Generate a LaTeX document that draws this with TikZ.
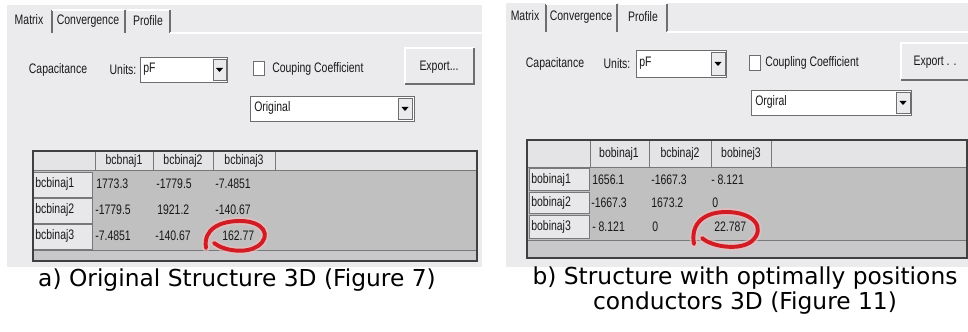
\documentclass[tikz,border=0pt]{standalone}
\usepackage{fontspec}
\newfontfamily\guifont[FakeStretch=0.76]{Liberation Sans}
\newfontfamily\capfont{DejaVu Sans}
\usetikzlibrary{calc}
\definecolor{panelgray}{RGB}{235,235,238}
\definecolor{headgray}{RGB}{228,228,230}
\definecolor{rowgray}{RGB}{232,232,234}
\definecolor{datagray}{RGB}{192,192,192}
\definecolor{stripgray}{RGB}{200,200,202}
\definecolor{gridgray}{RGB}{120,120,120}
\definecolor{framedark}{RGB}{64,64,64}
\definecolor{bevdark}{RGB}{110,110,112}
\definecolor{ringred}{RGB}{208,28,34}
\tikzset{
  panel/.style={fill=panelgray},
  field/.style={fill=white,draw=bevdark,line width=0.6pt},
  knob/.style={fill=panelgray,draw=bevdark,line width=0.5pt},
  litedge/.style={white,line width=0.9pt},
  darkedge/.style={bevdark,line width=0.9pt},
  gui/.style={font=\guifont\fontsize{9.8}{11}\selectfont,inner sep=0pt,text=black!90},
  guiw/.style={gui,anchor=west},
  headcell/.style={fill=headgray,draw=gridgray,line width=0.5pt},
  rowcell/.style={fill=rowgray,draw=gridgray,line width=0.5pt},
  tableframe/.style={draw=framedark,line width=0.9pt},
  ring/.style={draw=ringred,line width=2.8pt,line cap=round},
  ringglow/.style={draw=ringred!30,line width=5.5pt,line cap=round,opacity=0.6},
  caption/.style={font=\capfont\fontsize{16.6}{17.8}\selectfont,inner sep=0pt,align=center},
}

\begin{document}
\begin{tikzpicture}[x=0.25mm,y=-0.25mm]
  \path[use as bounding box,fill=white] (0,0) rectangle (968,332);

  % ---- left screenshot
  \path[panel] (7,5) rectangle (482,267);
  \draw[darkedge] (52,33) -- (52,10);
  \draw[litedge] (52,10) -- (125,10) (127,10) -- (170,10);
  \draw[darkedge] (125,10) -- (125,33) (170,10) -- (170,33);
  \draw[litedge] (170,33) -- (482,33);
  \node[gui] (lmatrix) at (29,20) {Matrix};
  \node[gui] (lconv) at (88,21) {Convergence};
  \node[gui] (lprofile) at (148,21) {Profile};

  \node[gui] (lcap) at (58,70) {Capacitance};
  \node[gui] (lunits) at (123,70) {Units:};
  \draw[field] (140,57) rectangle (227,82);
  \draw[knob] (213,59) rectangle (226,80);
  \fill (216,68) -- (223,68) -- (219.5,72) -- cycle;
  \node[guiw] (lpf) at (143,69) {pF};
  \draw[field] (253,61) rectangle (264,75);
  \node[guiw] (lcoef) at (272,69) {Couping Coefficient};
  \draw[litedge] (405,84) -- (405,48) -- (474,48);
  \draw[darkedge] (474,48) -- (474,84) -- (405,84);
  \node[gui] (lexport) at (439,67) {Export...};
  \draw[field] (250,96) rectangle (414,121);
  \draw[knob] (398,98) rectangle (412,119);
  \fill (401.5,107) -- (408.5,107) -- (405,111) -- cycle;
  \node[guiw] (lorig) at (254,108) {Original};

  % matrix table
  \path[fill=datagray] (33,151) rectangle (477,261);
  \path[headcell] (33,151) rectangle (95,170);
  \path[headcell] (95,151) rectangle (153,170);
  \path[headcell] (153,151) rectangle (213,170);
  \path[headcell] (213,151) rectangle (275,170);
  \path[headcell] (275,151) rectangle (477,170);
  \node[gui] (lh1) at (124,161) {bcbnaj1};
  \node[gui] (lh2) at (183,161) {bcbinaj2};
  \node[gui] (lh3) at (244,161) {bcbinaj3};
  \path[rowcell] (33,172) rectangle (92,197);
  \path[rowcell] (33,198) rectangle (92,223);
  \path[rowcell] (33,224) rectangle (92,249);
  \node[guiw] (lr1) at (35,184) {bcbinaj1};
  \node[guiw] (lr2) at (35,210) {bcbinaj2};
  \node[guiw] (lr3) at (35,236) {bcbinaj3};
  \node[guiw] (la11) at (96,184) {1773.3};
  \node[guiw] (la12) at (156,184) {-1779.5};
  \node[guiw] (la13) at (215,184) {-7.4851};
  \node[guiw] (la21) at (95,210) {-1779.5};
  \node[guiw] (la22) at (157,210) {1921.2};
  \node[guiw] (la23) at (215,210) {-140.67};
  \node[guiw] (la31) at (95,236) {-7.4851};
  \node[guiw] (la32) at (155,236) {-140.67};
  \node[guiw] (la33) at (222,236) {162.77};
  \path[fill=stripgray] (33,250) rectangle (477,261);
  \draw[gridgray,line width=0.6pt] (33,250) -- (477,250);
  \draw[tableframe] (33,151) rectangle (477,261);
  \draw[ringglow] (206,248) .. controls (203,229) and (220,221) .. (240,221)
    .. controls (264,221) and (272,236) .. (258,246) .. controls (246,254) and (224,251) .. (214,243);
  \draw[ring] (206,248) .. controls (203,229) and (220,221) .. (240,221)
    .. controls (264,221) and (272,236) .. (258,246) .. controls (246,254) and (224,251) .. (214,243);

  \node[caption] (lcaption) at (237,280) {a) Original Structure 3D (Figure 7)};

  % ---- right screenshot
  \path[panel] (506,3) rectangle (968,267);
  \draw[darkedge] (546,32) -- (546,4);
  \draw[litedge] (546,4) -- (617,4) (619,4) -- (667,4);
  \draw[darkedge] (617,4) -- (617,32) (667,4) -- (667,32);
  \draw[litedge] (667,32) -- (968,32);
  \node[gui] (rmatrix) at (525,16) {Matrix};
  \node[gui] (rconv) at (581,17) {Convergence};
  \node[gui] (rprofile) at (643,17) {Profile};

  \node[gui] (rcap) at (555,64) {Capacitance};
  \node[gui] (runits) at (617,64) {Units:};
  \draw[field] (636,50) rectangle (726,77);
  \draw[knob] (711,52) rectangle (725,75);
  \fill (714.5,62) -- (721.5,62) -- (718,66) -- cycle;
  \node[guiw] (rpf) at (639,63) {pF};
  \draw[field] (749,55) rectangle (760,70);
  \node[guiw] (rcoef) at (765,63) {Coupling Coefficient};
  \draw[litedge] (901,80) -- (901,43) -- (968,43);
  \draw[darkedge] (901,80) -- (968,80);
  \node[gui] (rexport) at (935,62) {Export . .};
  \draw[field] (751,90) rectangle (911,115);
  \draw[knob] (896,92) rectangle (910,113);
  \fill (899.5,101) -- (906.5,101) -- (903,105) -- cycle;
  \node[guiw] (rorig) at (755,102) {Orgiral};

  % matrix table
  \path[fill=datagray] (527,140) rectangle (967,258);
  \path[headcell] (527,140) rectangle (590,167);
  \path[headcell] (590,140) rectangle (649,167);
  \path[headcell] (649,140) rectangle (711,167);
  \path[headcell] (711,140) rectangle (771,167);
  \path[headcell] (771,140) rectangle (967,167);
  \node[gui] (rh1) at (619,154) {bobinaj1};
  \node[gui] (rh2) at (680,154) {bcbinaj2};
  \node[gui] (rh3) at (741,154) {bobinej3};
  \path[rowcell] (529,168) rectangle (589,190);
  \path[rowcell] (529,192) rectangle (589,213);
  \path[rowcell] (529,215) rectangle (589,238);
  \node[guiw] (rr1) at (531,180) {bobinaj1};
  \node[guiw] (rr2) at (531,203) {bobinaj2};
  \node[guiw] (rr3) at (531,227) {bobinaj3};
  \node[guiw] (rb11) at (592,180) {1656.1};
  \node[guiw] (rb12) at (651,180) {-1667.3};
  \node[guiw] (rb13) at (711,180) {- 8.121};
  \node[guiw] (rb21) at (591,203) {-1667.3};
  \node[guiw] (rb22) at (651,203) {1673.2};
  \node[guiw] (rb23) at (712,203) {0};
  \node[guiw] (rb31) at (592,227) {- 8.121};
  \node[guiw] (rb32) at (652,227) {0};
  \node[guiw] (rb33) at (714,227) {22.787};
  \path[fill=stripgray] (527,240) rectangle (967,258);
  \draw[gridgray,line width=0.6pt] (527,240) -- (967,240);
  \draw[tableframe] (527,140) rectangle (967,258);
  \draw[ringglow] (694,244) .. controls (690,222) and (706,212) .. (726,212)
    .. controls (754,212) and (766,228) .. (752,241) .. controls (740,251) and (712,247) .. (702,238);
  \draw[ring] (694,244) .. controls (690,222) and (706,212) .. (726,212)
    .. controls (754,212) and (766,228) .. (752,241) .. controls (740,251) and (712,247) .. (702,238);

  \node[caption] (rcaption) at (745,291)
    {b) Structure with optimally positions\\conductors 3D (Figure 11)};
\end{tikzpicture}
\end{document}
